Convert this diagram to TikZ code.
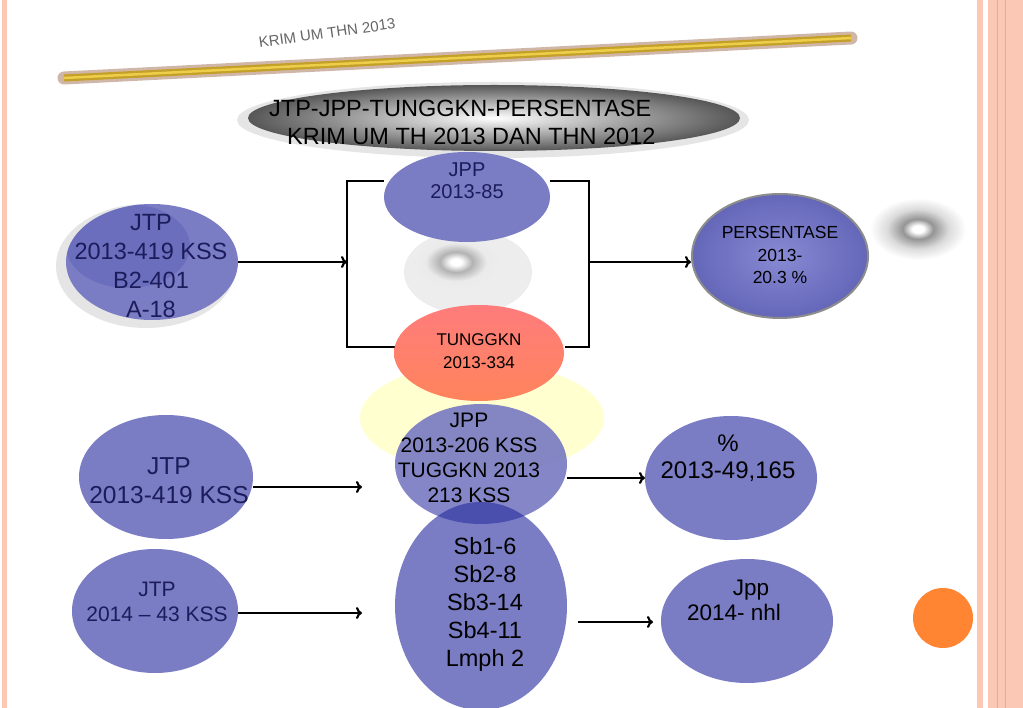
\documentclass[tikz,border=0pt]{standalone}
\usepackage{fontspec}
\setmainfont{Liberation Sans}
\usetikzlibrary{shapes.geometric,arrows.meta}
\definecolor{bub}{RGB}{122,124,196}
\definecolor{bubdark}{RGB}{74,78,172}
\definecolor{navy}{RGB}{28,28,92}
\definecolor{pinkl}{RGB}{250,200,180}
\definecolor{pinkd}{RGB}{240,168,140}
\definecolor{goldA}{RGB}{196,160,40}
\definecolor{goldB}{RGB}{236,206,74}
\definecolor{glow}{RGB}{160,110,80}
\definecolor{redA}{RGB}{255,124,124}
\definecolor{redB}{RGB}{255,132,92}
\definecolor{paleY}{RGB}{255,255,208}
\definecolor{orng}{RGB}{255,133,51}
\pgfdeclareradialshading{grayspot}{\pgfpoint{0bp}{0bp}}{color(0bp)=(white); color(3bp)=(white); color(8bp)=(black!42); color(16bp)=(black!14); color(25bp)=(white); color(50bp)=(white)}
\pgfdeclareradialshading{softspot}{\pgfpoint{0bp}{0bp}}{color(0bp)=(white); color(3bp)=(white); color(9bp)=(black!30); color(17bp)=(black!8); color(25bp)=(black!7); color(50bp)=(black!7)}
\newcommand\myfs[2]{\fontsize{#1pt}{#2pt}\selectfont}
\begin{document}
\begin{tikzpicture}[x=1pt,y=-1pt,
  bubble/.style 2 args={ellipse,inner sep=0pt,minimum width=#1,minimum height=#2,fill=bub},
  shape only/.style 2 args={ellipse,inner sep=0pt,minimum width=#1,minimum height=#2},
  txt/.style={align=center,inner sep=0pt},
  arr/.style={line width=2.2pt,-{To[length=6pt,width=12pt]}},
  brk/.style={line width=2pt,line join=miter}]
\useasboundingbox (0,0) rectangle (1023,708);
\fill[white] (0,0) rectangle (1023,708);
% side stripes
\fill[pinkl] (2,0) rectangle (7,708);
\fill[pinkl] (977,0) rectangle (983,708);
\fill[pinkl] (988,0) rectangle (1023,708);
\draw[pinkd,line width=1pt] (997,0) -- (997,708);
\draw[pinkd,line width=1pt] (1005,0) -- (1005,708);
% header text and bar
\node[txt,rotate=8,text=black!60,font=\myfs{15}{18}] (hdr) at (327,33) {KRIM UM THN 2013};
\coordinate (gA) at (64,78);
\coordinate (gB) at (851,38);
\draw[glow,opacity=.5,line width=13pt,line cap=round] (gA) -- (gB);
\draw[goldA,line width=7pt] (gA) -- (gB);
\draw[goldB,line width=2.5pt] (gA) -- (gB);
% title ellipse
\node[shape only={512pt}{76pt},fill=black!10] (thalo) at (493,120) {};
\node[shape only={492pt}{66pt},inner color=white,outer color=black!66] (tell) at (494,118) {};
\node[align=left,inner sep=0pt,anchor=west,font=\myfs{23.5}{28}] (title) at (269,122)
  {JTP-JPP-TUNGGKN-PERSENTASE\\\hspace*{18pt}KRIM UM TH 2013 DAN THN 2012};
% bracket
\coordinate (bTL) at (384,181);
\coordinate (bTR) at (550,181);
\coordinate (bBL) at (395,347);
\coordinate (bBR) at (565,347);
\coordinate (brL) at (347,262);
\coordinate (brR) at (589,262);
\draw[brk] (bTL) -- (347,181) -- (347,347) -- (bBL);
\draw[brk] (bTR) -- (589,181) -- (589,347) -- (bBR);
% middle gray spot
\node[shape only={128pt}{84pt},fill=black!7] (gdisc) at (468,272) {};
\node[shape only={90pt}{56pt},shading=softspot] (gspot) at (456,262) {};
% right gray spot
\node[shape only={96pt}{62pt},shading=grayspot] (rspot) at (918,229) {};
% yellow halo
\node[shape only={244pt}{110pt},fill=paleY] (yhalo) at (482,418) {};
% JTP 1
\node[shape only={180pt}{124pt},fill=black!10] (jtp1s) at (146,266) {};
\node[bubble={172pt}{116pt}] (jtp1) at (152,262) {};
\begin{scope}
\clip (152,262) ellipse [x radius=86pt,y radius=58pt];
\fill[bubdark,opacity=.3] (128,246) ellipse [x radius=62pt,y radius=42pt];
\end{scope}
\node[txt,text=navy,font=\myfs{23.5}{29}] (jtp1t) at (151,266) {JTP\\2013-419 KSS\\B2-401\\A-18};
% JPP top
\node[bubble={166pt}{90pt}] (jpp) at (467,197) {};
\node[txt,text=navy,font=\myfs{20}{22}] (jppt) at (467,181) {JPP\\2013-85};
% TUNGGKN
\node[shape only={170pt}{96pt},top color=redA,bottom color=redB] (tung) at (479,353) {};
\node[txt,font=\myfs{17}{23}] (tungt) at (479,351) {TUNGGKN\\2013-334};
% PERSENTASE
\node[shape only={176pt}{124pt},inner color={rgb,255:red,136;green,138;blue,212},outer color={rgb,255:red,100;green,102;blue,184},draw=black!45,line width=2pt] (pers) at (780,256) {};
\node[txt,font=\myfs{17.5}{22.5}] (perst) at (780,255) {PERSENTASE\\2013-\\20.3 \%};
% JPP 2 and Sb
\node[bubble={172pt}{120pt},fill opacity=.92] (jpp2) at (481,464) {};
\node[bubble={172pt}{208pt}] (sb) at (481,606) {};
\begin{scope}
\clip (481,464) ellipse [x radius=86pt,y radius=60pt];
\fill[bubdark] (481,606) ellipse [x radius=86pt,y radius=104pt];
\end{scope}
\node[txt,font=\myfs{21}{25}] (jpp2t) at (469,458) {JPP\\2013-206 KSS\\TUGGKN 2013\\213 KSS};
\node[txt,font=\myfs{23.5}{28}] (sbt) at (485,604) {Sb1-6\\Sb2-8\\Sb3-14\\Sb4-11\\Lmph 2};
% JTP 2, JTP 3
\node[bubble={174pt}{124pt}] (jtp2) at (166,477) {};
\node[txt,text=navy,font=\myfs{24.5}{29}] (jtp2t) at (169,481) {JTP\\2013-419 KSS};
\node[bubble={166pt}{124pt}] (jtp3) at (155,611) {};
\node[txt,text=navy,font=\myfs{21}{25}] (jtp3t) at (157,602) {JTP\\2014 -- 43 KSS};
% results
\node[bubble={172pt}{124pt}] (pct) at (731,478) {};
\node[txt,font=\myfs{24}{27}] (pctt) at (728,458) {\%\\2013-49,165};
\node[bubble={172pt}{124pt}] (jpp3) at (747,621) {};
\node[txt,font=\myfs{22.5}{25}] (jpp3t) at (734,600) {\hspace*{34pt}Jpp\\2014- nhl};
% orange dot
\node[circle,inner sep=0pt,minimum size=60pt,fill=orng] (dot) at (943,618) {};
% arrows
\coordinate (a3s) at (253,487);
\coordinate (a3e) at (362,487);
\coordinate (a4s) at (238,613);
\coordinate (a4e) at (362,613);
\coordinate (a5s) at (567,478);
\coordinate (a5e) at (645,478);
\coordinate (a6s) at (578,622);
\coordinate (a6e) at (653,622);
\draw[arr] (jtp1.east) -- (brL);
\draw[arr] (brR) -- (brR -| pers.west);
\draw[arr] (a3s) -- (a3e);
\draw[arr] (a4s) -- (a4e);
\draw[arr] (a5s) -- (a5e);
\draw[arr] (a6s) -- (a6e);
\end{tikzpicture}
\end{document}
